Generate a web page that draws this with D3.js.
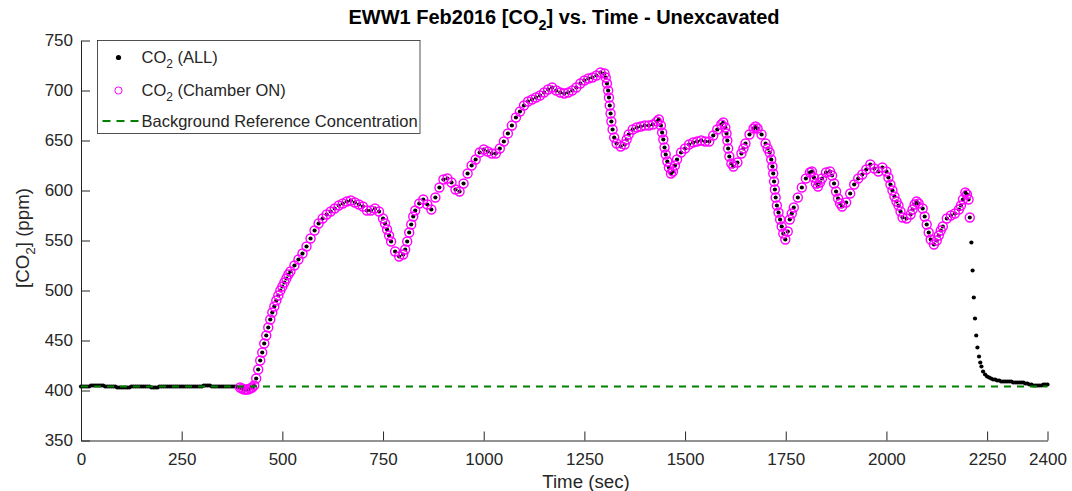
<!DOCTYPE html>
<html>
<head>
<meta charset="utf-8">
<script src="https://cdn.jsdelivr.net/npm/d3@7"></script>
<style>
  body { margin: 0; background: #fff; }
  svg text { font-family: "Liberation Sans", Arial, sans-serif; fill: #262626; }
</style>
</head>
<body>
<svg id="chart" width="1072" height="491"></svg>
<script>
// [time (sec), CO2 (ppm)]
var baselineSamples = [
  [0,404],[5,404],[10,404],[15,404],[20,404],[25,405],[30,405],[35,405],[40,405],[45,405],
  [50,405],[55,405],[60,404],[65,404],[70,404],[75,404],[80,404],[85,404],[90,403],[95,403],
  [100,403],[105,403],[110,403],[115,403],[120,403],[125,404],[130,404],[135,404],[140,404],[145,404],
  [150,404],[155,404],[160,404],[165,404],[170,404],[175,403],[180,403],[185,403],[190,403],[195,404],
  [200,404],[205,404],[210,404],[215,404],[220,404],[225,404],[230,404],[235,404],[240,404],[245,404],
  [250,404],[255,404],[260,404],[265,404],[270,404],[275,404],[280,404],[285,404],[290,404],[295,404],
  [300,404],[305,405],[310,405],[315,405],[320,405],[325,404],[330,404],[335,404],[340,404],[345,404],
  [350,404],[355,404],[360,404],[365,404],[370,404],[375,404],[380,404],[385,404],[390,403]
];

var chamberSamples = [
  [395,403],[400,402],[405,401],[410,401],[415,401],[420,402],[425,403],[430,405],[435,412],[440,421],
  [445,430],[450,438],[455,447],[460,455],[465,463],[470,471],[475,478],[480,484],[485,490],[490,495],
  [495,500],[500,504],[505,508],[510,512],[515,516],[520,519],[530,525],[540,531],[550,537],[560,544],
  [570,552],[580,560],[590,567],[600,572],[610,576],[620,579],[630,582],[640,585],[650,587],[660,589],
  [670,590],[680,588],[690,586],[700,584],[710,580],[720,580],[730,582],[740,579],[750,572],[755,567],
  [760,561],[765,555],[770,549],[780,539],[790,534],[800,536],[805,541],[810,549],[815,558],[820,566],
  [825,574],[830,580],[840,587],[850,591],[860,586],[870,581],[880,593],[890,603],[900,611],[910,612],
  [920,608],[930,601],[940,599],[950,607],[960,617],[970,625],[980,631],[990,638],[1000,641],[1010,639],
  [1020,637],[1030,637],[1040,642],[1050,649],[1060,657],[1070,665],[1080,673],[1090,679],[1100,685],[1110,689],
  [1120,691],[1130,693],[1140,695],[1150,698],[1160,701],[1170,703],[1180,700],[1190,698],[1200,697],[1210,698],
  [1220,700],[1230,703],[1240,707],[1250,710],[1260,712],[1270,713],[1280,715],[1290,718],[1300,717],[1303,713],
  [1306,707],[1309,700],[1311,693],[1313,685],[1315,677],[1317,669],[1320,661],[1324,653],[1330,647],[1340,644],
  [1350,646],[1355,651],[1360,656],[1370,661],[1380,663],[1390,664],[1400,665],[1410,665],[1420,666],[1430,669],
  [1435,671],[1440,665],[1443,658],[1446,651],[1449,643],[1452,636],[1456,629],[1460,623],[1465,617],[1470,619],
  [1475,625],[1480,631],[1490,638],[1500,642],[1510,646],[1520,648],[1530,649],[1540,650],[1550,649],[1560,649],
  [1570,655],[1580,661],[1590,666],[1595,668],[1600,663],[1603,657],[1605,650],[1607,642],[1610,634],[1615,627],
  [1620,624],[1630,628],[1640,637],[1645,642],[1650,647],[1660,656],[1670,662],[1675,664],[1680,662],[1690,656],
  [1700,647],[1705,642],[1710,638],[1714,631],[1717,624],[1719,617],[1721,609],[1723,601],[1725,593],[1728,585],
  [1732,578],[1736,571],[1740,564],[1744,557],[1749,551],[1755,559],[1760,571],[1765,577],[1770,583],[1780,593],
  [1790,603],[1800,612],[1810,618],[1815,619],[1820,613],[1825,607],[1830,604],[1835,608],[1840,612],[1850,618],
  [1860,619],[1865,615],[1870,607],[1875,599],[1880,592],[1885,587],[1890,584],[1900,588],[1910,597],[1920,606],
  [1930,612],[1940,616],[1950,621],[1960,626],[1970,622],[1980,619],[1990,623],[2000,619],[2005,613],[2010,606],
  [2015,600],[2020,594],[2025,589],[2030,585],[2035,579],[2040,573],[2050,572],[2060,576],[2065,581],[2070,586],
  [2075,589],[2080,587],[2090,582],[2095,574],[2100,566],[2105,558],[2110,551],[2118,546],[2125,550],[2130,555],
  [2135,560],[2140,564],[2150,572],[2160,575],[2170,577],[2180,581],[2185,585],[2190,591],[2196,598],[2200,596],
  [2204,591],[2207,573]
];

var decaySamples = [
  [2211,548],[2214,520],[2217,493],[2220,472],[2223,455],[2226,443],[2230,434],[2233,428],[2236,424],[2240,419],
  [2245,416],[2250,414],[2255,413],[2260,412],[2265,411],[2270,411],[2275,410],[2280,410],[2285,409],[2290,409],
  [2295,409],[2300,409],[2305,409],[2310,409],[2315,408],[2320,408],[2325,408],[2330,408],[2335,408],[2340,408],
  [2345,407],[2350,407],[2355,406],[2360,406],[2365,405],[2370,405],[2375,405],[2380,405],[2385,405],[2390,406],
  [2395,406],[2400,406]
];

var chamberWindow = [395, 2208];
var backgroundPpm = 404;

var xTicks = [0, 250, 500, 750, 1000, 1250, 1500, 1750, 2000, 2250, 2400];
var yTicks = [350, 400, 450, 500, 550, 600, 650, 700, 750];

var margin = { top: 40.5, left: 81 };
var plotWidth = 966.5;
var plotHeight = 400;

var allSamples = baselineSamples.concat(chamberSamples, decaySamples);
var chamberOn = allSamples.filter(function(d) { return d[0] >= chamberWindow[0] && d[0] <= chamberWindow[1]; });

var svg = d3.select("#chart");
var g = svg.append("g").attr("transform", "translate(" + margin.left + "," + margin.top + ")");

var x = d3.scaleLinear().domain([0, 2400]).range([0, plotWidth]);
var y = d3.scaleLinear().domain([350, 750]).range([plotHeight, 0]);

// axes, ticks point inward
var xAxis = g.append("g")
  .attr("transform", "translate(0," + plotHeight + ")")
  .call(d3.axisBottom(x).tickValues(xTicks).tickFormat(d3.format("d")).tickSizeInner(-9).tickSizeOuter(0).tickPadding(12));

var yAxis = g.append("g")
  .call(d3.axisLeft(y).tickValues(yTicks).tickFormat(d3.format("d")).tickSizeInner(-9).tickSizeOuter(0).tickPadding(8));

[xAxis, yAxis].forEach(function(a) {
  a.selectAll("path, line").attr("stroke", "#262626").attr("stroke-width", 1);
  a.selectAll("text").style("font-size", "17px").attr("fill", "#262626");
});

// all samples
g.append("g").selectAll("circle")
  .data(allSamples)
  .enter().append("circle")
  .attr("cx", function(d) { return x(d[0]); })
  .attr("cy", function(d) { return y(d[1]); })
  .attr("r", 2.1)
  .attr("fill", "#000");

// chamber on samples
g.append("g").selectAll("circle")
  .data(chamberOn)
  .enter().append("circle")
  .attr("cx", function(d) { return x(d[0]); })
  .attr("cy", function(d) { return y(d[1]); })
  .attr("r", 4.5)
  .attr("fill", "none")
  .attr("stroke", "#ff00ff")
  .attr("stroke-width", 1.4);

// background reference
g.append("line")
  .attr("x1", x(0)).attr("x2", x(2400))
  .attr("y1", y(backgroundPpm)).attr("y2", y(backgroundPpm))
  .attr("stroke", "#008000")
  .attr("stroke-width", 2)
  .attr("stroke-dasharray", "7,6");

function co2Text(sel, before, after, size) {
  sel.append("tspan").text(before + "CO");
  sel.append("tspan").text("2").attr("dy", size * 0.3).style("font-size", (size * 0.72) + "px");
  sel.append("tspan").text(after).attr("dy", -size * 0.3);
}

// title
var title = svg.append("text")
  .attr("x", 564).attr("y", 24)
  .attr("text-anchor", "middle")
  .style("font-size", "20px").style("font-weight", "bold").style("fill", "#000");
co2Text(title, "EWW1 Feb2016 [", "] vs. Time - Unexcavated", 20);

// axis labels
svg.append("text")
  .attr("x", 586).attr("y", 488)
  .attr("text-anchor", "middle")
  .style("font-size", "18.7px")
  .text("Time (sec)");

var ylab = svg.append("text")
  .attr("transform", "translate(29,238) rotate(-90)")
  .attr("text-anchor", "middle")
  .style("font-size", "18.7px");
co2Text(ylab, "[", "] (ppm)", 18.7);

// legend
var legend = svg.append("g").attr("transform", "translate(97.5,40.5)");
legend.append("rect")
  .attr("width", 322.5).attr("height", 93)
  .attr("fill", "#fff")
  .attr("stroke", "#262626").attr("stroke-width", 0.8);

legend.append("circle").attr("cx", 21).attr("cy", 17).attr("r", 2.6).attr("fill", "#000");
co2Text(legend.append("text").attr("x", 44).attr("y", 22.5).style("font-size", "16.5px"), "", " (ALL)", 16.5);

legend.append("circle").attr("cx", 21).attr("cy", 50).attr("r", 3.6)
  .attr("fill", "none").attr("stroke", "#ff00ff").attr("stroke-width", 1);
co2Text(legend.append("text").attr("x", 44).attr("y", 55.5).style("font-size", "16.5px"), "", " (Chamber ON)", 16.5);

legend.append("line")
  .attr("x1", 5).attr("x2", 41).attr("y1", 80.5).attr("y2", 80.5)
  .attr("stroke", "#008000").attr("stroke-width", 2).attr("stroke-dasharray", "8,6");
legend.append("text").attr("x", 44).attr("y", 86.5).style("font-size", "16.5px")
  .text("Background Reference Concentration");
</script>
</body>
</html>
